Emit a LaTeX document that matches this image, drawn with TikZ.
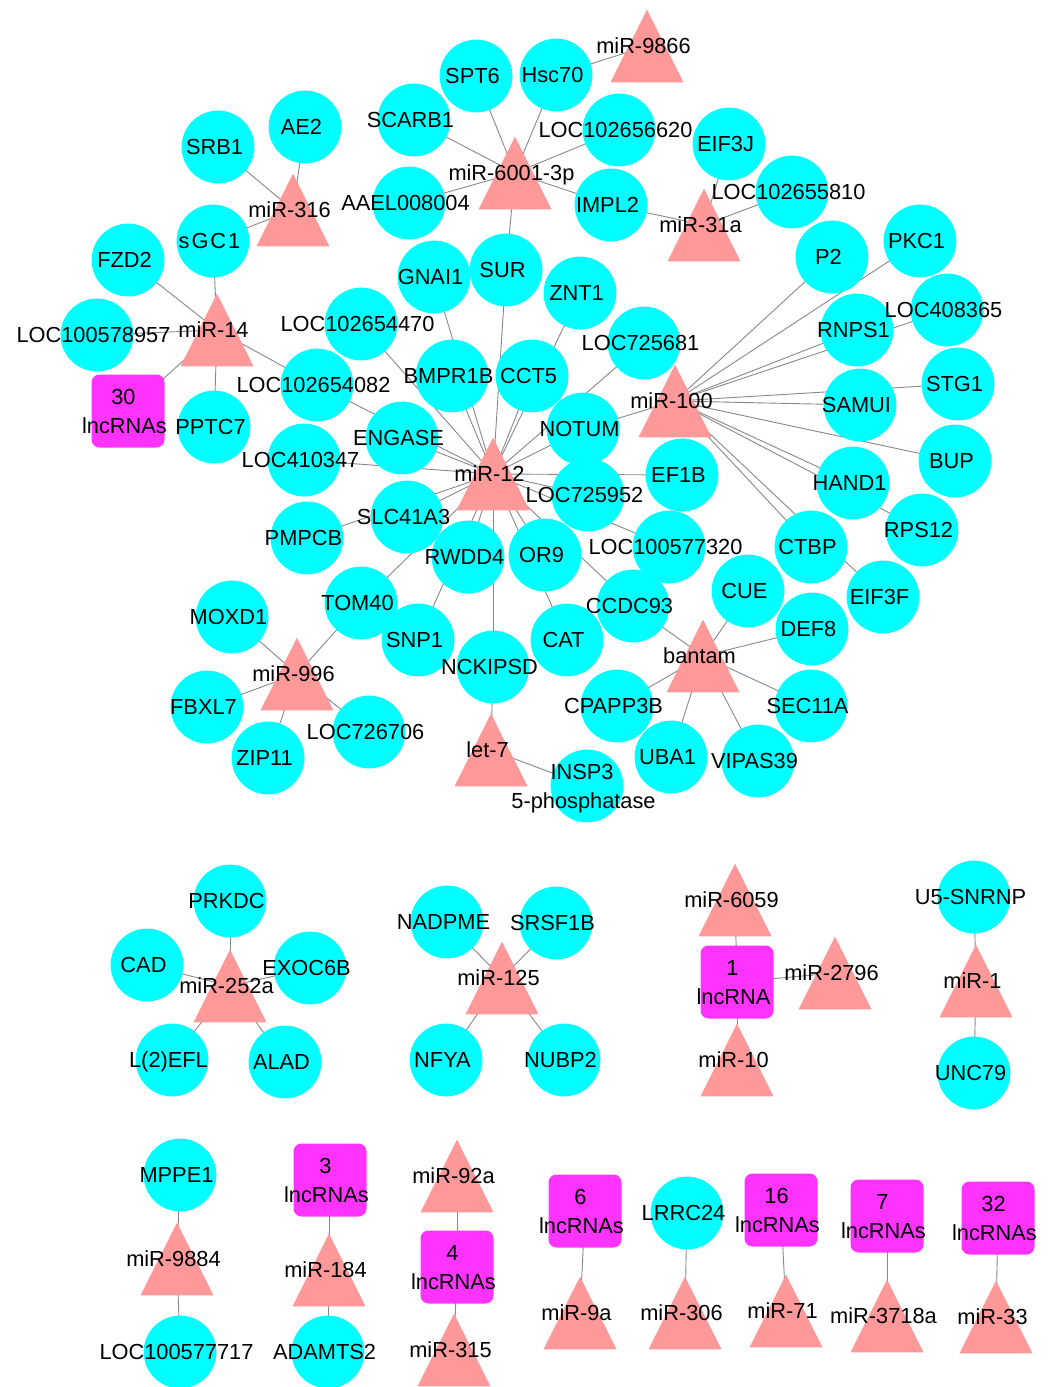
\documentclass[tikz,border=0pt]{standalone}
\usepackage{fontspec}
\setmainfont{Liberation Sans}
\usetikzlibrary{backgrounds}
\definecolor{cyanc}{RGB}{0,255,255}
\definecolor{pinkc}{RGB}{255,153,153}
\definecolor{magc}{RGB}{255,51,255}
\definecolor{edgec}{RGB}{136,136,136}
\tikzset{
  base/.style={rectangle, draw=none, inner sep=0pt, outer sep=0pt,
    minimum width=73pt, minimum height=73pt,
    font=\fontsize{21.8}{29}\selectfont, text height=15.6pt, text depth=0pt,
    execute at end node={\hspace*{7pt}}},
  gene/.style={base, path picture={\fill[cyanc] (path picture bounding box.center) circle[radius=36.4pt];}},
  mirna/.style={base, path picture={\fill[pinkc] (path picture bounding box.center) ++(-36.5pt,-36.3pt) -- ++(73pt,0pt) -- ++(-36.5pt,72.6pt) -- cycle;}},
  lnc/.style={base, align=center, text height=, path picture={\fill[magc, rounded corners=8pt] (path picture bounding box.center) ++(-36.5pt,-36.5pt) rectangle ++(73pt,73pt);}},
  twoline/.style={align=center, text height=},
  edge/.style={draw=edgec, line width=0.9pt}
}
\begin{document}
\begin{tikzpicture}[x=1pt,y=-1pt]
\useasboundingbox (0,0) rectangle (1054,1387);
% genes (top cluster)
\node[gene] (SPT6) at (476,76) {SPT6};
\node[gene] (Hsc70) at (556,75) {Hsc70};
\node[gene] (SCARB1) at (414,120) {SCARB1};
\node[gene] (Lsix620) at (619,130) {LOC102656620};
\node[gene] (EIF3J) at (729,144) {EIF3J};
\node[gene] (Lfive810) at (792,192) {LOC102655810};
\node[gene] (AE2) at (305,127) {AE2};
\node[gene] (SRB1) at (218,147) {SRB1};
\node[gene] (AAEL) at (409,203) {AAEL008004};
\node[gene] (IMPL2) at (611,205) {IMPL2};
\node[gene] (sGC1) at (213,241) {s\kern2pt G\kern2pt C\kern2pt 1};
\node[gene] (FZD2) at (128,260) {FZD2};
\node[gene] (SUR) at (506,270) {SUR};
\node[gene] (GNAI1) at (434,277) {GNAI1};
\node[gene] (ZNT1) at (580,293) {ZNT1};
\node[gene] (P2) at (832,257) {P2};
\node[gene] (PKC1) at (920,241) {PKC1};
\node[gene] (RNPS1) at (857,330) {RNPS1};
\node[gene] (L408365) at (947,310) {LOC408365};
\node[gene] (L100578957) at (97,335) {LOC100578957};
\node[gene] (L102654470) at (361,324) {LOC102654470};
\node[gene] (L725681) at (644,343) {LOC725681};
\node[gene] (PPTC7) at (214,427) {PPTC7};
\node[gene] (L102654082) at (317,385) {LOC102654082};
\node[gene] (BMPR1B) at (452,376) {BMPR1B};
\node[gene] (CCT5) at (532,376) {CCT5};
\node[gene] (STG1) at (958,384) {STG1};
\node[gene] (SAMUI) at (860,405) {SAMUI};
\node[gene] (ENGASE) at (402,438) {ENGASE};
\node[gene] (NOTUM) at (583,429) {NOTUM};
\node[gene] (L410347) at (304,460) {LOC410347};
\node[gene] (EF1B) at (682,475) {EF1B};
\node[gene] (BUP) at (955,461) {BUP};
\node[gene] (HAND1) at (853,483) {HAND1};
\node[gene] (L725952) at (588,495) {LOC725952};
\node[gene] (SLC41A3) at (407,517) {SLC41A3};
\node[gene] (PMPCB) at (307,538) {PMPCB};
\node[gene] (RPS12) at (922,530) {RPS12};
\node[gene] (L100577320) at (669,547) {LOC100577320};
\node[gene] (CTBP) at (811,547) {CTBP};
\node[gene] (RWDD4) at (468,557) {RWDD4};
\node[gene] (OR9) at (545,555) {OR9};
\node[gene] (EIF3F) at (883,597) {EIF3F};
\node[gene] (CUE) at (748,591) {CUE};
\node[gene] (TOM40) at (361,603) {TOM40};
\node[gene] (CCDC93) at (633,606) {CCDC93};
\node[gene] (DEF8) at (812,629) {DEF8};
\node[gene] (MOXD1) at (232,617) {MOXD1};
\node[gene] (SNP1) at (418,640) {SNP1};
\node[gene] (CAT) at (567,640) {CAT};
\node[gene] (NCKIPSD) at (493,667) {NCKIPSD};
\node[gene] (FBXL7) at (207,707) {FBXL7};
\node[gene] (CPAPP3B) at (617,706) {CPAPP3B};
\node[gene] (SEC11A) at (811,706) {SEC11A};
\node[gene] (L726706) at (369,732) {LOC726706};
\node[gene] (ZIP11) at (268,758) {ZIP11};
\node[gene] (UBA1) at (671,757) {UBA1};
\node[gene] (VIPAS39) at (758,761) {VIPAS39};
\node[gene, twoline] (INSP3) at (587,786) {INSP3\hspace*{3pt}\\5-phosphatase};
% mirnas (top cluster)
\node[mirna] (miR9866) at (647,46) {miR-9866};
\node[mirna] (miR6001) at (515,173) {miR-6001-3p};
\node[mirna] (miR31a) at (704,225) {miR-31a};
\node[mirna] (miR316) at (293,210) {miR-316};
\node[mirna] (miR14) at (217,330) {miR-14};
\node[mirna] (miR100) at (675,401) {miR-100};
\node[mirna] (miR12) at (493,474) {miR-12};
\node[mirna] (bantam) at (703,656) {bantam};
\node[mirna] (miR996) at (297,674) {miR-996};
\node[mirna] (let7) at (491,750) {let-7};
\node[lnc] (lnc30) at (128,411) {30\hspace*{2pt}\\lncRNAs};
% bottom groups
\node[gene] (PRKDC) at (230,901) {PRKDC};
\node[gene] (CAD) at (147,965) {CAD};
\node[gene] (EXOC6B) at (310,968) {EXOC6B};
\node[gene] (L2EFL) at (172,1060) {L(2)EFL};
\node[gene] (ALAD) at (285,1062) {ALAD};
\node[mirna] (miR252a) at (230,986) {miR-252a};
\node[gene] (NADPME) at (447,922) {NADPME};
\node[gene] (SRSF1B) at (556,923) {SRSF1B};
\node[gene] (NFYA) at (446,1060) {NFYA};
\node[gene] (NUBP2) at (564,1060) {NUBP2};
\node[mirna] (miR125) at (502,978) {miR-125};
\node[mirna] (miR6059) at (735,900) {miR-6059};
\node[lnc] (lnc1) at (737,982) {1\hspace*{2pt}\\lncRNA};
\node[mirna] (miR2796) at (835,973) {miR-2796};
\node[mirna] (miR10) at (737,1060) {miR-10};
\node[gene] (U5SNRNP) at (974,897) {U5-SNRNP};
\node[mirna] (miR1) at (976,981) {miR-1};
\node[gene] (UNC79) at (974,1073) {UNC79};
\node[gene] (MPPE1) at (180,1175) {MPPE1};
\node[mirna] (miR9884) at (177,1259) {miR-9884};
\node[gene] (L100577717) at (180,1352) {LOC100577717};
\node[lnc] (lnc3) at (330,1180) {3\hspace*{2pt}\\lncRNAs};
\node[mirna] (miR184) at (329,1270) {miR-184};
\node[gene] (ADAMTS2) at (328,1352) {ADAMTS2};
\node[mirna] (miR92a) at (457,1176) {miR-92a};
\node[lnc] (lnc4) at (457,1267) {4\hspace*{2pt}\\lncRNAs};
\node[mirna] (miR315) at (454,1350) {miR-315};
\node[lnc] (lnc6) at (585,1211) {6\hspace*{2pt}\\lncRNAs};
\node[mirna] (miR9a) at (580,1313) {miR-9a};
\node[gene] (LRRC24) at (687,1213) {LRRC24};
\node[mirna] (miR306) at (685,1313) {miR-306};
\node[lnc] (lnc16) at (781,1210) {16\hspace*{2pt}\\lncRNAs};
\node[mirna] (miR71) at (786,1311) {miR-71};
\node[lnc] (lnc7) at (887,1216) {7\hspace*{2pt}\\lncRNAs};
\node[mirna] (miR3718a) at (887,1316) {miR-3718a};
\node[lnc] (lnc32) at (998,1218) {32\hspace*{2pt}\\lncRNAs};
\node[mirna] (miR33) at (996,1317) {miR-33};
\begin{pgfonlayer}{background}
\fill[white] (0,0) rectangle (1054,1387);
\foreach \a/\b in {miR6001/SPT6, miR6001/Hsc70, miR6001/SCARB1, miR6001/Lsix620, miR6001/AAEL, miR6001/IMPL2, miR6001/SUR,
  miR9866/Hsc70, miR31a/IMPL2, miR31a/EIF3J, miR31a/Lfive810,
  miR316/AE2, miR316/SRB1, miR316/sGC1,
  miR14/sGC1, miR14/FZD2, miR14/L100578957, miR14/lnc30, miR14/PPTC7, miR14/L102654082,
  miR12/GNAI1, miR12/L102654470, miR12/BMPR1B, miR12/SUR, miR12/CCT5, miR12/ZNT1, miR12/L725681, miR12/NOTUM,
  miR12/L102654082, miR12/ENGASE, miR12/L410347, miR12/EF1B, miR12/L725952, miR12/L100577320, miR12/CCDC93,
  miR12/CAT, miR12/OR9, miR12/NCKIPSD, miR12/RWDD4, miR12/SNP1, miR12/TOM40, miR12/SLC41A3, miR12/PMPCB,
  miR100/P2, miR100/PKC1, miR100/L408365, miR100/RNPS1, miR100/STG1, miR100/SAMUI, miR100/BUP, miR100/HAND1,
  miR100/RPS12, miR100/CTBP, miR100/EIF3F, miR100/NOTUM,
  bantam/CCDC93, bantam/CUE, bantam/DEF8, bantam/SEC11A, bantam/VIPAS39, bantam/UBA1, bantam/CPAPP3B,
  miR996/TOM40, miR996/MOXD1, miR996/FBXL7, miR996/ZIP11, miR996/L726706,
  let7/NCKIPSD, let7/INSP3,
  miR252a/PRKDC, miR252a/CAD, miR252a/EXOC6B, miR252a/L2EFL, miR252a/ALAD,
  miR125/NADPME, miR125/SRSF1B, miR125/NFYA, miR125/NUBP2,
  lnc1/miR6059, lnc1/miR2796, lnc1/miR10, miR1/U5SNRNP, miR1/UNC79,
  miR9884/MPPE1, miR9884/L100577717, miR184/lnc3, miR184/ADAMTS2, lnc4/miR92a, lnc4/miR315,
  lnc6/miR9a, LRRC24/miR306, lnc16/miR71, lnc7/miR3718a, lnc32/miR33}
  \draw[edge] (\a.center) -- (\b.center);
\end{pgfonlayer}
\end{tikzpicture}
\end{document}
